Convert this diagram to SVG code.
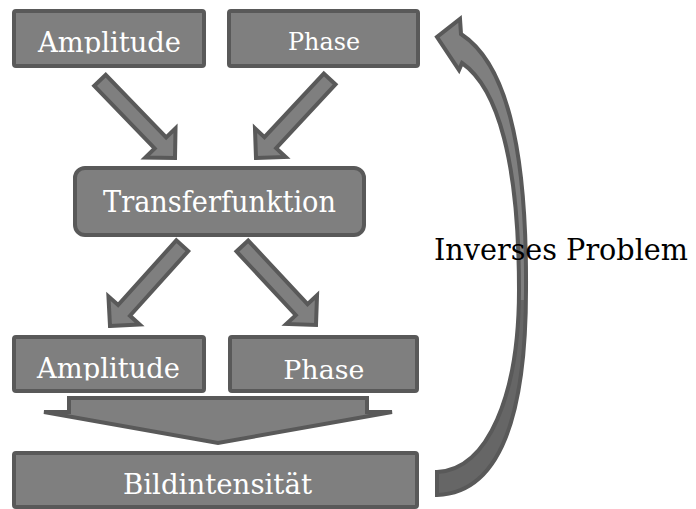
<svg xmlns="http://www.w3.org/2000/svg" width="696" height="509" viewBox="0 0 696 509">
<style>
.box{fill:#7f7f7f;stroke:#595959;stroke-width:4;stroke-linejoin:miter}
.arr{fill:#7f7f7f;stroke:#595959;stroke-width:4;stroke-linejoin:miter}
.lbl{font-family:"DejaVu Serif","Liberation Serif",serif;fill:#ffffff;text-anchor:middle}
.ext{font-family:"DejaVu Serif","Liberation Serif",serif;fill:#000000}
</style>
<defs>
<path id="diag" d="M0,0 L-21,-21 L-21,-8 L-108,-8 L-108,8 L-21,8 L-21,21 Z"/>
<path id="curve" d="M437,495 L437,472 C488,470 519,395 519,290 C519,162 498,88 462,63 L459,70 L437,37 L460,19 L461,34 C504,62 527,140 526,290 C526,420 498,493 437,495 Z"/>
<clipPath id="clipA1"><rect x="0" y="0" width="696" height="53.5"/></clipPath>
<clipPath id="clipA2"><rect x="0" y="300" width="696" height="80.5"/></clipPath>
<clipPath id="clipLow"><rect x="0" y="300" width="696" height="209"/></clipPath>
</defs>

<g id="connectors">
<use href="#diag" class="arr" transform="translate(175,158) rotate(46)"/>
<use href="#diag" class="arr" transform="translate(256,158) rotate(133)"/>
<use href="#diag" class="arr" transform="translate(110,326) rotate(132)"/>
<use href="#diag" class="arr" transform="translate(316,325) rotate(47)"/>
<path id="merge-arrow" class="arr" d="M69,398 L367,398 L367,412 L392,412 L218,443 L44,412 L69,412 Z"/>
<g id="inverse-arrow">
<use href="#curve" style="fill:#7f7f7f;stroke:none"/>
<use href="#curve" style="fill:#666666;stroke:none" clip-path="url(#clipLow)"/>
<use href="#curve" style="fill:none;stroke:#595959;stroke-width:4;stroke-linejoin:miter"/>
</g>
</g>

<g id="amp-top">
<rect class="box" x="14" y="11" width="190" height="55" rx="2"/>
<text class="lbl" x="109.5" y="52" font-size="27" textLength="143" lengthAdjust="spacingAndGlyphs" clip-path="url(#clipA1)">Amplitude</text>
</g>
<g id="phase-top">
<rect class="box" x="229" y="11" width="189" height="55" rx="2"/>
<text class="lbl" x="324" y="50" font-size="25" textLength="72" lengthAdjust="spacingAndGlyphs">Phase</text>
</g>
<g id="transfer">
<rect class="box" x="75" y="168" width="289" height="67" rx="10"/>
<text class="lbl" x="219.5" y="212" font-size="29" textLength="233" lengthAdjust="spacingAndGlyphs">Transferfunktion</text>
</g>
<g id="amp-bottom">
<rect class="box" x="14" y="337" width="190" height="54" rx="2"/>
<text class="lbl" x="108.5" y="378" font-size="27" textLength="143" lengthAdjust="spacingAndGlyphs" clip-path="url(#clipA2)">Amplitude</text>
</g>
<g id="phase-bottom">
<rect class="box" x="230" y="337" width="187" height="54" rx="2"/>
<text class="lbl" x="323.8" y="378.5" font-size="26" textLength="81" lengthAdjust="spacingAndGlyphs">Phase</text>
</g>
<g id="bild">
<rect class="box" x="14" y="453" width="403" height="54" rx="2"/>
<text class="lbl" x="217.5" y="494" font-size="27" textLength="189" lengthAdjust="spacingAndGlyphs">Bildintensität</text>
</g>
<g id="inverse-label">
<text class="ext" x="434" y="260" font-size="29" textLength="254" lengthAdjust="spacingAndGlyphs">Inverses Problem</text>
</g>
</svg>
